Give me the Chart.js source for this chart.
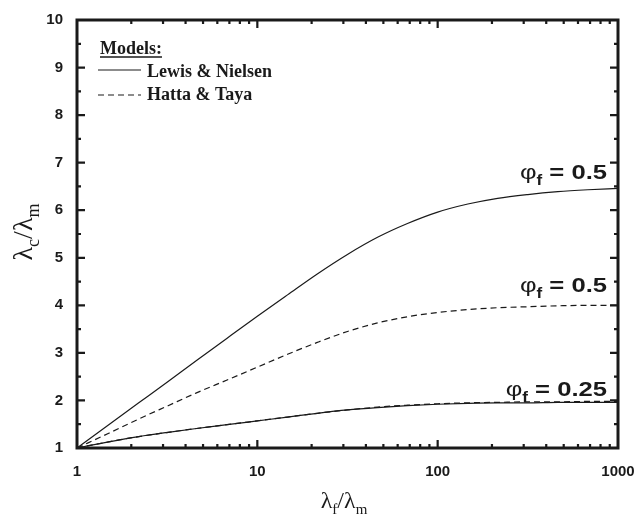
<!DOCTYPE html>
<html>
<head>
<meta charset="utf-8">
<script src="https://cdn.jsdelivr.net/npm/chart.js@4"></script>
<style>
  body { margin: 0; background: #fff; }
  #wrap { width: 637px; height: 525px; position: relative; }
</style>
</head>
<body>
<div id="wrap"><canvas id="c"></canvas></div>
<script>
// lambda_f / lambda_m sample points (log axis, ~6 per decade)
const ratios = [1, 1.5, 2.2, 3.2, 4.6, 6.8, 10, 14.7, 21.5, 31.6, 46.4, 68, 100, 147, 215, 316, 464, 681, 1000];

// Lewis & Nielsen, phi_f = 0.5
const lnHalf = [1.0, 1.49, 1.95, 2.4, 2.84, 3.31, 3.77, 4.22, 4.66, 5.07, 5.43, 5.72, 5.96, 6.13, 6.25, 6.33, 6.39, 6.43, 6.46];
// Hatta & Taya, phi_f = 0.5
const htHalf = [1.0, 1.31, 1.61, 1.89, 2.16, 2.43, 2.7, 2.97, 3.22, 3.45, 3.63, 3.76, 3.85, 3.91, 3.95, 3.97, 3.99, 4.0, 4.0];
// Lewis & Nielsen, phi_f = 0.25
const lnQuarter = [1.0, 1.13, 1.24, 1.33, 1.41, 1.49, 1.57, 1.65, 1.73, 1.8, 1.85, 1.89, 1.92, 1.94, 1.95, 1.95, 1.96, 1.96, 1.96];
// Hatta & Taya, phi_f = 0.25
const htQuarter = [1.0, 1.13, 1.24, 1.33, 1.41, 1.49, 1.57, 1.65, 1.73, 1.8, 1.86, 1.9, 1.93, 1.95, 1.96, 1.97, 1.97, 1.98, 1.98];

const xTickVals = [1, 10, 100, 1000];
const yTickVals = [1, 2, 3, 4, 5, 6, 7, 8, 9, 10];

// curve labels: y value of the text baseline, volume fraction text
const curveLabels = [
    { y: 6.65, txt: '0.5' },
    { y: 4.27, txt: '0.5' },
    { y: 2.1, txt: '0.25' }
];

const SANS = '"Liberation Sans", Arial, sans-serif';
const SERIF = '"Liberation Serif", "Times New Roman", serif';
const INK = '#1a1a1a';

function toPts(vals) {
    return ratios.map((r, i) => ({ x: r, y: vals[i] }));
}

function lineSet(vals, dashed) {
    return {
        data: toPts(vals),
        borderColor: INK,
        borderWidth: 1.2,
        borderDash: dashed ? [6, 4] : [],
        pointRadius: 0,
        cubicInterpolationMode: 'monotone',
        fill: false
    };
}

// draw runs of text [{t, font, dy}] from (x, y) baseline
function drawRuns(ctx, runs, x, y) {
    let cx = x;
    runs.forEach(r => {
        ctx.font = r.font;
        ctx.fillText(r.t, cx, y + (r.dy || 0));
        cx += ctx.measureText(r.t).width;
    });
    return cx - x;
}
function runsWidth(ctx, runs) {
    let w = 0;
    runs.forEach(r => { ctx.font = r.font; w += ctx.measureText(r.t).width; });
    return w;
}

const framePlugin = {
    id: 'frame',
    afterDatasetsDraw(chart) {
        const ctx = chart.ctx;
        const a = chart.chartArea;
        const xs = chart.scales.x, ys = chart.scales.y;
        ctx.save();
        ctx.strokeStyle = INK;
        ctx.fillStyle = INK;

        // ticks (inward, on all four sides)
        ctx.lineWidth = 2.2;
        ctx.beginPath();
        for (let d = 0; d < 3; d++) {
            for (let m = 1; m <= 9; m++) {
                const v = Math.pow(10, d) * m;
                const px = xs.getPixelForValue(v);
                const len = m === 1 ? 8 : 4;
                if (m === 1 && d === 0) continue;
                ctx.moveTo(px, a.bottom); ctx.lineTo(px, a.bottom - len);
                ctx.moveTo(px, a.top); ctx.lineTo(px, a.top + len);
            }
        }
        for (let v = 1.5; v < 10; v += 0.5) {
            const py = ys.getPixelForValue(v);
            const len = (v % 1 === 0) ? 8 : 4;
            ctx.moveTo(a.left, py); ctx.lineTo(a.left + len, py);
            ctx.moveTo(a.right, py); ctx.lineTo(a.right - len, py);
        }
        ctx.stroke();

        // frame
        ctx.lineWidth = 3;
        ctx.strokeRect(a.left, a.top, a.right - a.left, a.bottom - a.top);

        // legend
        ctx.textBaseline = 'alphabetic';
        ctx.font = 'bold 18px ' + SERIF;
        ctx.fillText('Models:', 100, 54);
        const mw = ctx.measureText('Models:').width;
        ctx.lineWidth = 1.5;
        ctx.beginPath();
        ctx.moveTo(100, 57); ctx.lineTo(100 + mw, 57);
        ctx.stroke();

        ctx.lineWidth = 1.2;
        ctx.beginPath();
        ctx.moveTo(98, 70); ctx.lineTo(141, 70);
        ctx.stroke();
        ctx.setLineDash([6, 4]);
        ctx.beginPath();
        ctx.moveTo(98, 95); ctx.lineTo(141, 95);
        ctx.stroke();
        ctx.setLineDash([]);
        ctx.font = 'bold 18px ' + SERIF;
        ctx.fillText('Lewis & Nielsen', 147, 77);
        ctx.fillText('Hatta & Taya', 147, 100);

        // curve labels (wide bold face, stretched horizontally)
        const rightX = xs.getPixelForValue(1000) - 11;
        const sx = 1.22;
        curveLabels.forEach(l => {
            const runs = [
                { t: '\u03C6', font: '21px ' + SANS },
                { t: 'f', font: 'bold 14px ' + SANS, dy: 6 },
                { t: ' = ' + l.txt, font: 'bold 21px ' + SANS }
            ];
            const w = runsWidth(ctx, runs) * sx;
            ctx.save();
            ctx.translate(rightX - w, ys.getPixelForValue(l.y));
            ctx.scale(sx, 1);
            drawRuns(ctx, runs, 0, 0);
            ctx.restore();
        });

        // axis titles
        const xt = [
            { t: '\u03BB', font: '24px ' + SERIF },
            { t: 'f', font: '15px ' + SERIF, dy: 6 },
            { t: '/\u03BB', font: '24px ' + SERIF },
            { t: 'm', font: '15px ' + SERIF, dy: 6 }
        ];
        const xw = runsWidth(ctx, xt);
        drawRuns(ctx, xt, 344 - xw / 2, 508);

        const yt = [
            { t: '\u03BB', font: '28px ' + SERIF },
            { t: 'c', font: '18px ' + SERIF, dy: 7 },
            { t: '/\u03BB', font: '28px ' + SERIF },
            { t: 'm', font: '18px ' + SERIF, dy: 7 }
        ];
        const yw = runsWidth(ctx, yt);
        ctx.translate(32, 232);
        ctx.rotate(-Math.PI / 2);
        drawRuns(ctx, yt, -yw / 2, 0);
        ctx.restore();
    }
};

new Chart(document.getElementById('c'), {
    type: 'line',
    data: {
        datasets: [
            lineSet(lnHalf, false),
            lineSet(htHalf, true),
            lineSet(lnQuarter, false),
            lineSet(htQuarter, true)
        ]
    },
    options: {
        responsive: true,
        maintainAspectRatio: false,
        animation: false,
        layout: { padding: { top: 20, right: 19, left: 0, bottom: 0 } },
        plugins: { legend: { display: false }, tooltip: { enabled: false } },
        scales: {
            x: {
                type: 'logarithmic',
                min: 1, max: 1000,
                grid: { display: false, drawTicks: false },
                border: { display: false },
                afterBuildTicks: s => { s.ticks = xTickVals.map(v => ({ value: v })); },
                afterFit: s => { s.height = 77; s.paddingLeft = 0; s.paddingRight = 0; },
                ticks: {
                    autoSkip: false,
                    maxRotation: 0,
                    padding: 15,
                    color: INK,
                    font: { family: SANS, size: 15, weight: 'bold' },
                    callback: v => String(v)
                }
            },
            y: {
                type: 'linear',
                min: 1, max: 10,
                grid: { display: false, drawTicks: false },
                border: { display: false },
                afterBuildTicks: s => { s.ticks = yTickVals.map(v => ({ value: v })); },
                afterFit: s => { s.width = 77; s.paddingTop = 0; s.paddingBottom = 0; },
                ticks: {
                    padding: 14,
                    color: INK,
                    font: { family: SANS, size: 15, weight: 'bold' },
                    callback: v => String(v)
                }
            }
        }
    },
    plugins: [framePlugin]
});
</script>
</body>
</html>
